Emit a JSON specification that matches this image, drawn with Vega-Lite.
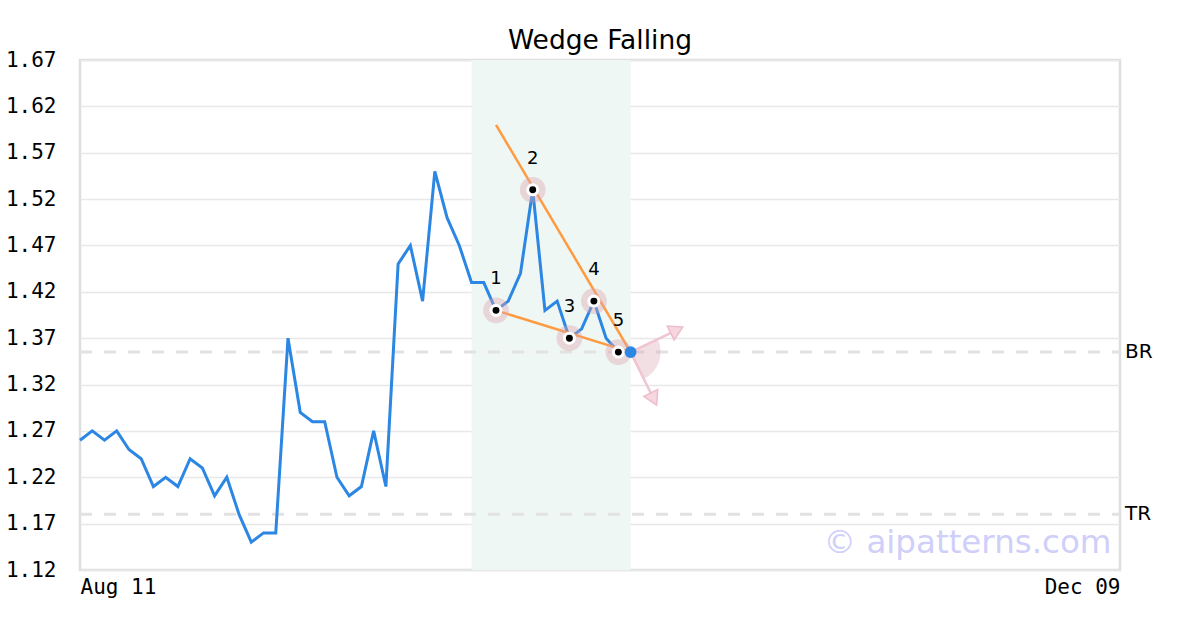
{
  "$schema": "https://vega.github.io/schema/vega-lite/v6.json",
  "width": 1040,
  "height": 510,
  "autosize": "none",
  "padding": {"left": 80, "top": 60, "right": 80, "bottom": 60},
  "background": "white",
  "title": {"text": "Wedge Falling", "fontSize": 26.5, "font": "DejaVu Sans", "fontWeight": "normal", "color": "#000000", "offset": -5},
  "config": {"view": {"stroke": "#dedede", "strokeWidth": 2.5}},
  "datasets": {
    "price": [
      {"i": 0, "v": 1.26}, {"i": 1, "v": 1.27}, {"i": 2, "v": 1.26}, {"i": 3, "v": 1.27}, {"i": 4, "v": 1.25},
      {"i": 5, "v": 1.24}, {"i": 6, "v": 1.21}, {"i": 7, "v": 1.22}, {"i": 8, "v": 1.21}, {"i": 9, "v": 1.24},
      {"i": 10, "v": 1.23}, {"i": 11, "v": 1.20}, {"i": 12, "v": 1.22}, {"i": 13, "v": 1.18}, {"i": 14, "v": 1.15},
      {"i": 15, "v": 1.16}, {"i": 16, "v": 1.16}, {"i": 17, "v": 1.37}, {"i": 18, "v": 1.29}, {"i": 19, "v": 1.28},
      {"i": 20, "v": 1.28}, {"i": 21, "v": 1.22}, {"i": 22, "v": 1.20}, {"i": 23, "v": 1.21}, {"i": 24, "v": 1.27},
      {"i": 25, "v": 1.21}, {"i": 26, "v": 1.45}, {"i": 27, "v": 1.47}, {"i": 28, "v": 1.41}, {"i": 29, "v": 1.55},
      {"i": 30, "v": 1.50}, {"i": 31, "v": 1.47}, {"i": 32, "v": 1.43}, {"i": 33, "v": 1.43}, {"i": 34, "v": 1.40},
      {"i": 35, "v": 1.41}, {"i": 36, "v": 1.44}, {"i": 37, "v": 1.53}, {"i": 38, "v": 1.40}, {"i": 39, "v": 1.41},
      {"i": 40, "v": 1.37}, {"i": 41, "v": 1.38}, {"i": 42, "v": 1.41}, {"i": 43, "v": 1.37}, {"i": 44, "v": 1.355},
      {"i": 45, "v": 1.355}
    ],
    "band": [{"i": 32, "i2": 45, "v": 1.12, "v2": 1.67}],
    "levels": [{"name": "BR", "i": 0, "i2": 85, "v": 1.355}, {"name": "TR", "i": 0, "i2": 85, "v": 1.18}],
    "wedge": [
      {"side": "upper", "i": 34, "v": 1.60}, {"side": "upper", "i": 45, "v": 1.355},
      {"side": "lower", "i": 34, "v": 1.40}, {"side": "lower", "i": 45, "v": 1.355}
    ],
    "pivots": [
      {"n": "1", "i": 34, "v": 1.40}, {"n": "2", "i": 37, "v": 1.53}, {"n": "3", "i": 40, "v": 1.37},
      {"n": "4", "i": 42, "v": 1.41}, {"n": "5", "i": 44, "v": 1.355}
    ],
    "last": [{"i": 45, "v": 1.355}],
    "arrowUp": [{"i": 45, "v": 1.355, "i2": 48.77, "v2": 1.3788}],
    "arrowDown": [{"i": 45, "v": 1.355, "i2": 46.89, "v2": 1.3044}],
    "mark": [{"i": 84.3, "v": 1.149, "text": "© aipatterns.com"}]
  },
  "encoding": {
    "x": {
      "field": "i", "type": "quantitative",
      "scale": {"domain": [0, 85], "nice": false, "zero": false},
      "axis": {
        "values": [0, 85],
        "labelExpr": "datum.value == 0 ? 'Aug 11' : 'Dec 09'",
        "labelFlush": true, "grid": false, "ticks": false, "tickSize": 0, "domain": false, "title": null,
        "labelFont": "DejaVu Sans Mono", "labelFontSize": 21, "labelColor": "#000000", "labelPadding": 6
      }
    },
    "y": {
      "field": "v", "type": "quantitative",
      "scale": {"domain": [1.12, 1.67], "nice": false, "zero": false},
      "axis": {
        "values": [1.12, 1.17, 1.22, 1.27, 1.32, 1.37, 1.42, 1.47, 1.52, 1.57, 1.62, 1.67],
        "format": ".2f", "grid": true, "gridColor": "#e8e8e8", "gridWidth": 1.5,
        "ticks": false, "tickSize": 0, "domain": false, "title": null,
        "labelFont": "DejaVu Sans Mono", "labelFontSize": 21, "labelColor": "#000000", "labelPadding": 24
      }
    }
  },
  "layer": [
    {
      "data": {"name": "band"},
      "mark": {"type": "rect", "color": "#eef7f3"},
      "encoding": {"x2": {"field": "i2"}, "y2": {"field": "v2"}}
    },
    {
      "data": {"name": "levels"},
      "mark": {"type": "rule", "color": "#e2e2e2", "strokeWidth": 3, "strokeDash": [12, 12]},
      "encoding": {"x2": {"field": "i2"}}
    },
    {
      "data": {"name": "price"},
      "mark": {"type": "line", "color": "#2b87e3", "strokeWidth": 3, "strokeJoin": "miter"},
      "encoding": {}
    },
    {
      "data": {"name": "wedge"},
      "mark": {"type": "line", "color": "#ff9a40", "strokeWidth": 2.5},
      "encoding": {"detail": {"field": "side"}}
    },
    {
      "data": {"name": "pivots"},
      "mark": {"type": "circle", "color": "#dba3b0", "opacity": 0.4, "size": 660},
      "encoding": {}
    },
    {
      "data": {"name": "pivots"},
      "mark": {"type": "circle", "color": "#ffffff", "opacity": 1, "size": 170},
      "encoding": {}
    },
    {
      "data": {"name": "pivots"},
      "mark": {"type": "circle", "color": "#000000", "opacity": 1, "size": 48},
      "encoding": {}
    },
    {
      "data": {"name": "pivots"},
      "mark": {"type": "text", "font": "DejaVu Sans", "fontSize": 18, "color": "#000000", "dy": -31, "baseline": "middle", "align": "center"},
      "encoding": {"text": {"field": "n"}}
    },
    {
      "data": {"name": "last"},
      "mark": {"type": "arc", "color": "#dba3b0", "opacity": 0.35, "radius": 30, "theta": 1.12, "theta2": 2.69},
      "encoding": {}
    },
    {
      "data": {"name": "arrowUp"},
      "mark": {"type": "rule", "color": "#f0c4d0", "strokeWidth": 2.5},
      "encoding": {"x2": {"field": "i2"}, "y2": {"field": "v2"}}
    },
    {
      "data": {"name": "arrowDown"},
      "mark": {"type": "rule", "color": "#f0c4d0", "strokeWidth": 2.5},
      "encoding": {"x2": {"field": "i2"}, "y2": {"field": "v2"}}
    },
    {
      "data": {"name": "arrowUp"},
      "mark": {"type": "point", "shape": "triangle-up", "angle": 64, "size": 240, "filled": true, "fill": "#f6d6df", "stroke": "#eebccb", "strokeWidth": 1.5, "opacity": 1},
      "encoding": {"x": {"field": "i2", "type": "quantitative"}, "y": {"field": "v2", "type": "quantitative"}}
    },
    {
      "data": {"name": "arrowDown"},
      "mark": {"type": "point", "shape": "triangle-up", "angle": 154, "size": 240, "filled": true, "fill": "#f6d6df", "stroke": "#eebccb", "strokeWidth": 1.5, "opacity": 1},
      "encoding": {"x": {"field": "i2", "type": "quantitative"}, "y": {"field": "v2", "type": "quantitative"}}
    },
    {
      "data": {"name": "last"},
      "mark": {"type": "circle", "color": "#2b87e3", "opacity": 1, "size": 140},
      "encoding": {}
    },
    {
      "data": {"name": "levels"},
      "mark": {"type": "text", "font": "DejaVu Sans", "fontSize": 20, "color": "#000000", "align": "left", "baseline": "middle", "dx": 5},
      "encoding": {"x": {"field": "i2", "type": "quantitative"}, "text": {"field": "name"}}
    },
    {
      "data": {"name": "mark"},
      "mark": {"type": "text", "font": "DejaVu Sans", "fontSize": 32.5, "color": "#cfcff9", "align": "right", "baseline": "middle"},
      "encoding": {"text": {"field": "text"}}
    }
  ]
}
